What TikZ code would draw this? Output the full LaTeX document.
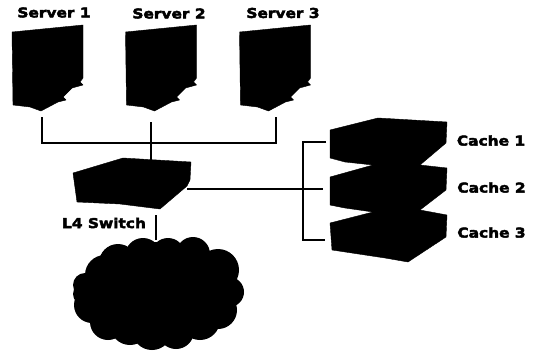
\documentclass[tikz,border=0pt]{standalone}
\usepackage{fontspec}
\newfontfamily\labfont[FakeBold=3.2,FakeStretch=1.14]{DejaVu Sans Bold}
\usetikzlibrary{calc}
\tikzset{
  lab/.style={font=\fontsize{13.5}{15}\labfont, text=black, inner sep=0pt},
  wire/.style={draw=black, line width=2pt},
  solidblack/.style={fill=black, draw=black, line width=0.4pt, line join=round},
}
\begin{document}
\begin{tikzpicture}[x=1pt,y=-1pt]
\useasboundingbox (0,0) rectangle (534,353);
% servers
\foreach \dx/\n in {0/1,113.5/2,227.5/3}{
  \begin{scope}[xshift=\dx pt]
  \path[solidblack] (12,32) -- (83,25) -- (83,78) -- (80,82) -- (83,85) -- (72,88) -- (63,97) -- (66,100) -- (58,102) -- (41,111) -- (30,107) -- (13,105) -- cycle;
  \end{scope}
}
\node[lab] (t1) at (54,12.5) {Server 1};
\node[lab] (t2) at (169,13.5) {Server 2};
\node[lab] (t3) at (283,13) {Server 3};
\coordinate (s1) at (42,117);
\coordinate (s2) at (151,122);
\coordinate (s3) at (275.5,117);
% switch
\path[solidblack] (73,173) -- (123,158) -- (191,162) -- (190,180) -- (187,186) -- (160,209) -- (120,204) -- (77,202) -- cycle;
\coordinate (swt) at (151,160);
\coordinate (swr) at (187,189);
\coordinate (swb) at (156,215);
\node[lab] (sw) at (104,223) {L4 Switch};
% caches
\path[solidblack] (330,130) -- (378,118) -- (447,122) -- (446,143) -- (420,165) -- (447,168) -- (446,190) -- (420,210) -- (447,215) -- (446,237) -- (408,262) -- (385,258) -- (332,250) -- (330,223) -- (373,212) -- (345,208) -- (330,205) -- (330,177) -- (373,165) -- (345,162) -- (330,158) -- cycle;
\node[lab] (c1) at (491,140.5) {Cache 1};
\node[lab] (c2) at (491.5,187.5) {Cache 2};
\node[lab] (c3) at (491.5,232.5) {Cache 3};
\coordinate (c1l) at (326,142);
\coordinate (c2l) at (323,189);
\coordinate (c3l) at (325,239.5);
% cloud
\fill[black] (158,290) ellipse (68 and 48);
\foreach \x/\y/\r in {
  118/263/19, 143/256/18, 168/255/17, 193/254/17, 218/270/21, 226/290/15,
  229/292/15, 85/285/12, 84/294/11, 92/305/18, 108/322/18, 130/325/20,
  152/330/20, 176/331/18, 200/320/20, 218/310/19, 105/275/20, 90/300/14}{
  \fill[black] (\x,\y) circle (\r);
}
\coordinate (cl) at (156,240);
% connectors
\coordinate (bus) at (151,143);
\coordinate (cb) at (303,189);
\draw[wire] (s1) |- (bus) -| (s3);
\draw[wire] (s2) -- (swt);
\draw[wire] (swr) -- (c2l);
\draw[wire] (c1l) -| (cb) |- (c3l);
\draw[wire] (swb) -- (cl);
\end{tikzpicture}
\end{document}
